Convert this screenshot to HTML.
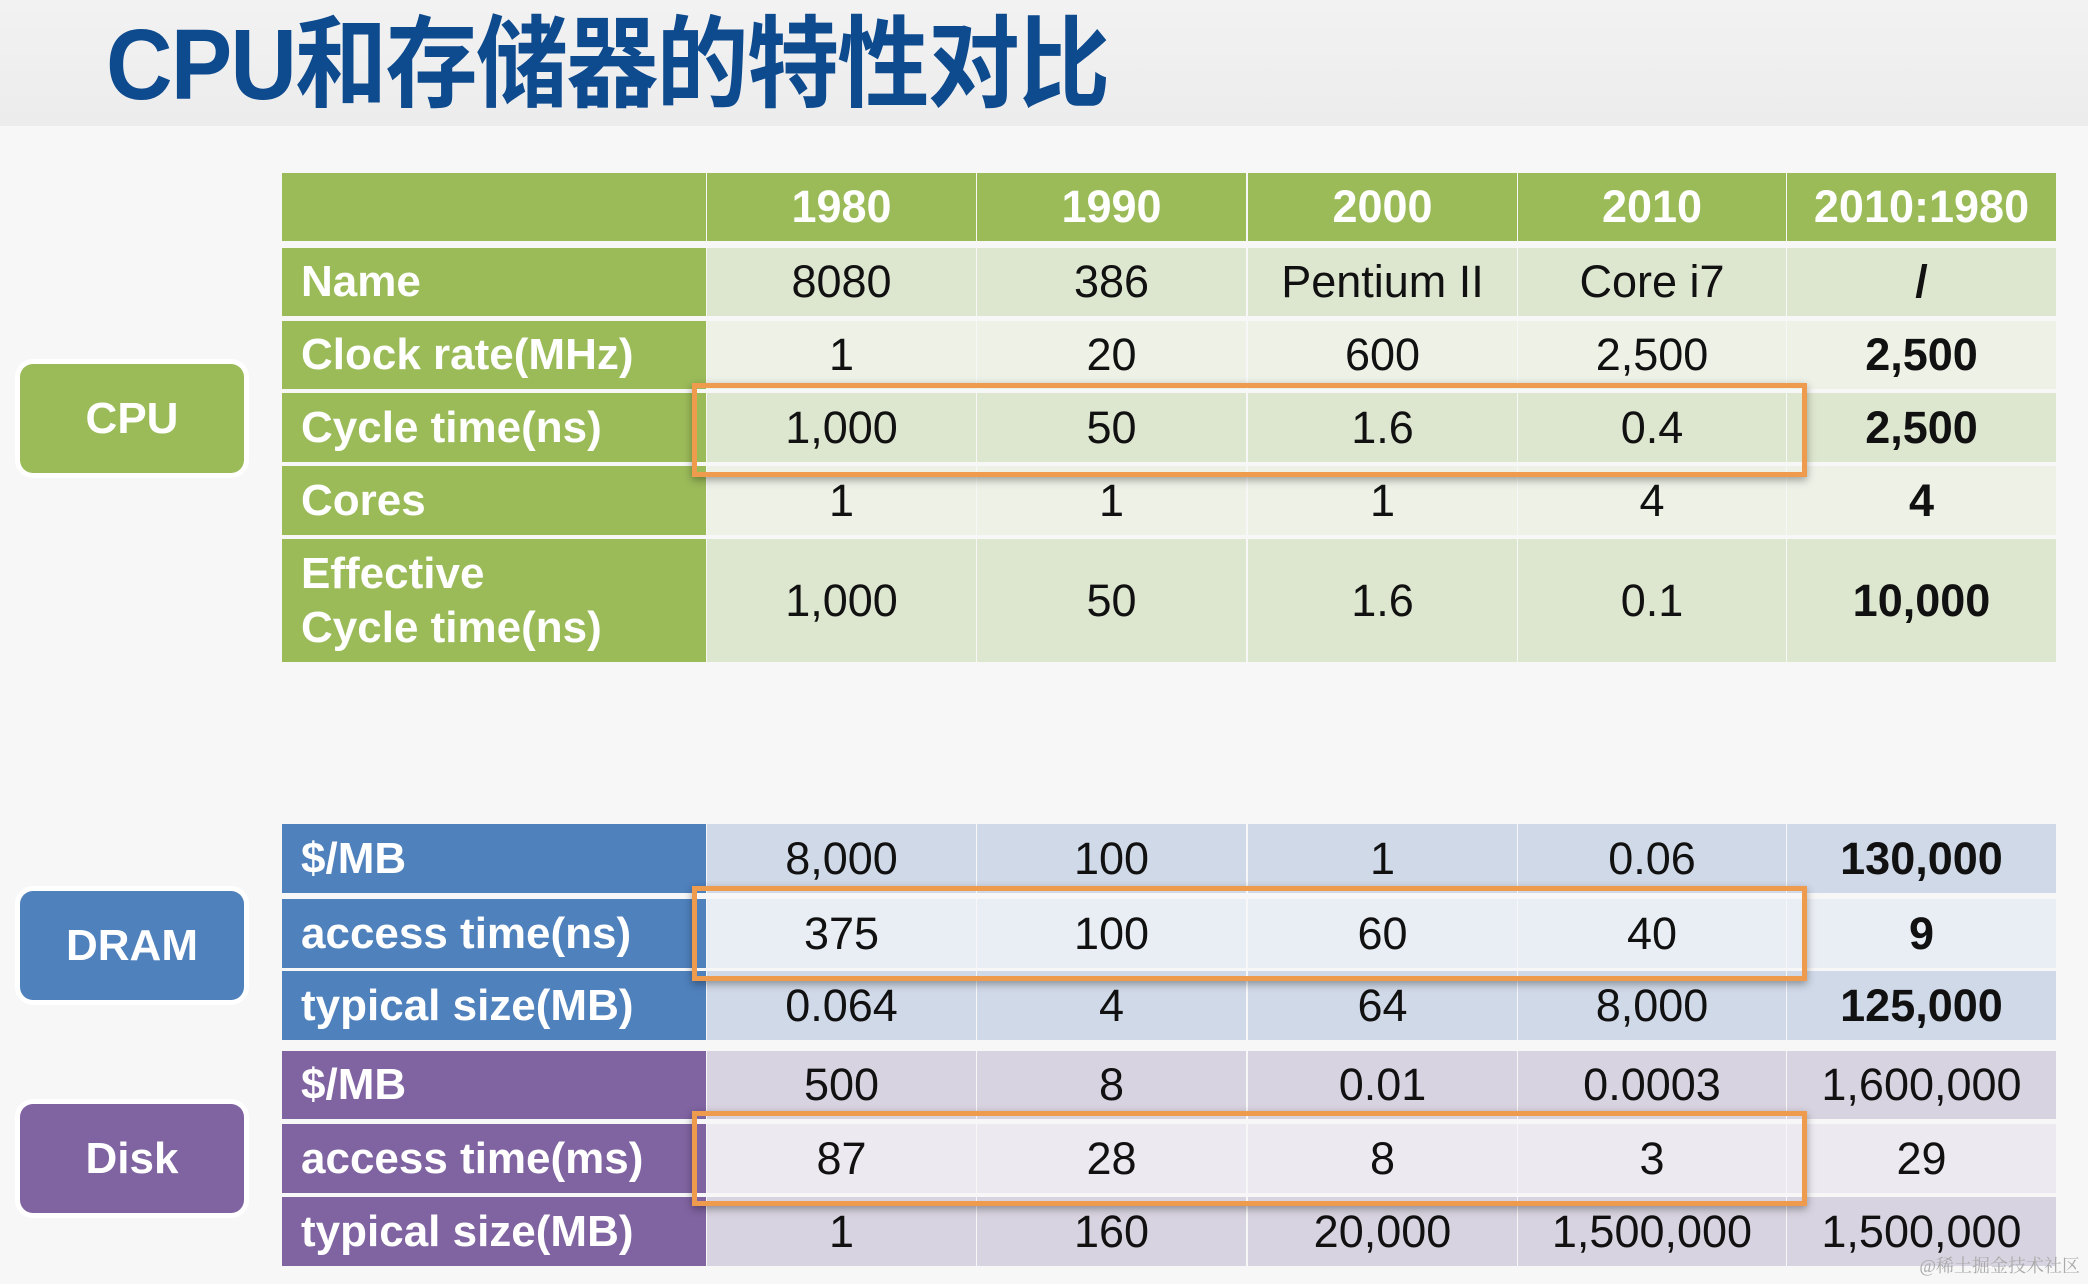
<!DOCTYPE html>
<html><head><meta charset="utf-8"><style>
*{margin:0;padding:0;box-sizing:border-box}
body{width:2088px;height:1284px;overflow:hidden;background:#f7f7f7;font-family:"Liberation Sans",Arial,sans-serif;position:relative}
.band{position:absolute;left:0;top:0;width:2088px;height:126px;background:linear-gradient(#f2f2f2,#ececec)}
.title{position:absolute;left:106px;top:10px;font-size:100px;font-weight:bold;color:#0d4a8e;font-family:"Liberation Sans","Noto Sans CJK SC",sans-serif;transform:scaleX(0.922);transform-origin:left top;letter-spacing:-2px;white-space:nowrap;line-height:110px}
.c{position:absolute;display:flex;align-items:center;justify-content:center;font-size:45px;color:#111}
.l{position:absolute;display:flex;align-items:center;padding-left:19px;font-size:44px;font-weight:bold;color:#fff;line-height:54px}
.h{font-weight:bold;color:#fff}
.b{font-weight:bold}
.side{position:absolute;left:20px;width:224px;border-radius:13px;color:#fff;font-weight:bold;font-size:44px;display:flex;align-items:center;justify-content:center;box-shadow:0 0 0 5px #fff}
.box{position:absolute;left:692px;width:1115px;border:5px solid #ef9b4e;box-shadow:0 3px 8px rgba(0,0,0,.35)}
.wm{position:absolute;right:8px;bottom:6px;font-size:18px;color:#aaa;font-family:"Liberation Serif","Noto Serif CJK SC",serif}
</style></head><body>
<div class="band"></div>
<div class="title">CPU和存储器的特性对比</div>
<div id="t"></div>
<div class="side" style="top:364px;height:109px;background:#9bbb59">CPU</div>
<div class="side" style="top:891px;height:109px;background:#4f81bd">DRAM</div>
<div class="side" style="top:1104px;height:109px;background:#8064a2">Disk</div>
<script>
var cols=[[707,976],[977,1246],[1248,1517],[1518,1786],[1787,2056]];
var rows=[
[173,241,"","#9bbb59",["1980","1990","2000","2010","2010:1980"],"#9bbb59",1,0],
[248,316,"Name","#9bbb59",["8080","386","Pentium II","Core i7","/"],"#dde6cf",0,1],
[321,389,"Clock rate(MHz)","#9bbb59",["1","20","600","2,500","2,500"],"#edf1e6",0,1],
[393,462,"Cycle time(ns)","#9bbb59",["1,000","50","1.6","0.4","2,500"],"#dde6cf",0,1],
[466,535,"Cores","#9bbb59",["1","1","1","4","4"],"#edf1e6",0,1],
[539,662,"Effective<br>Cycle time(ns)","#9bbb59",["1,000","50","1.6","0.1","10,000"],"#dde6cf",0,1],
[824,893,"$/MB","#4f81bd",["8,000","100","1","0.06","130,000"],"#d0d9e8",0,1],
[899,968,"access time(ns)","#4f81bd",["375","100","60","40","9"],"#e9edf4",0,1],
[971,1040,"typical size(MB)","#4f81bd",["0.064","4","64","8,000","125,000"],"#d0d9e8",0,1],
[1051,1119,"$/MB","#8064a2",["500","8","0.01","0.0003","1,600,000"],"#d8d3e0",0,0],
[1124,1193,"access time(ms)","#8064a2",["87","28","8","3","29"],"#ece9f1",0,0],
[1197,1266,"typical size(MB)","#8064a2",["1","160","20,000","1,500,000","1,500,000"],"#d8d3e0",0,0]];
var h="";
rows.forEach(function(r){
 var top=r[0],ht=r[1]-r[0];
 h+='<div class="l" style="left:282px;top:'+top+'px;width:424px;height:'+ht+'px;background:'+r[3]+'">'+r[2]+'</div>';
 cols.forEach(function(c,i){
  var cls="c"+(r[6]?" h":"")+(r[7]&&i==4?" b":"");
  h+='<div class="'+cls+'" style="left:'+c[0]+'px;top:'+top+'px;width:'+(c[1]-c[0])+'px;height:'+ht+'px;background:'+r[5]+'">'+r[4][i]+'</div>';
 });
});
document.getElementById("t").innerHTML=h;
</script>
<div class="box" style="top:383px;height:94px"></div>
<div class="box" style="top:886px;height:95px"></div>
<div class="box" style="top:1111px;height:95px"></div>
<div class="wm">@稀土掘金技术社区</div>
</body></html>
